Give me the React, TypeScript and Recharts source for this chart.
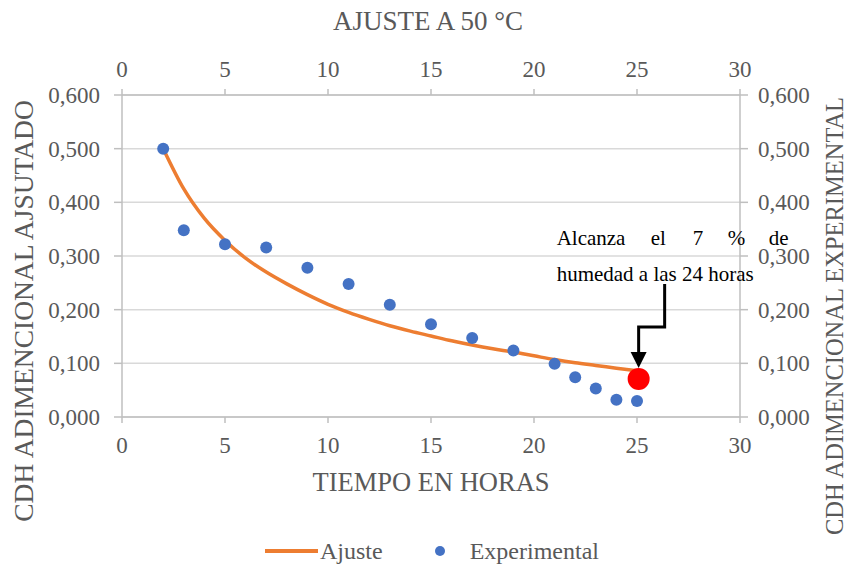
import React from "react";
import {
  CartesianGrid,
  ComposedChart,
  Label,
  Line,
  Scatter,
  XAxis,
  YAxis,
} from "recharts";

// curva ajustada
const ajusteHoras = [2, 3, 4, 5, 6, 7, 8, 9, 10, 11, 12, 13, 14, 15, 16, 17, 18, 19, 20, 21, 22, 23, 24, 25];
const ajusteCdh = [
  0.5, 0.425, 0.37, 0.329, 0.296, 0.27, 0.248, 0.228, 0.21, 0.195, 0.182, 0.17,
  0.16, 0.151, 0.142, 0.134, 0.127, 0.121, 0.114, 0.107, 0.101, 0.096, 0.091, 0.086,
];

// puntos experimentales
const expHoras = [2, 3, 5, 7, 9, 11, 13, 15, 17, 19, 21, 22, 23, 24, 25];
const expCdh = [0.5, 0.348, 0.322, 0.316, 0.278, 0.248, 0.209, 0.173, 0.147, 0.124, 0.099, 0.074, 0.053, 0.032, 0.03];

// punto del 7 % de humedad
const metaHoras = [25.08];
const metaCdh = [0.071];

const xTicks = [0, 5, 10, 15, 20, 25, 30];
const yTicks = [0, 0.1, 0.2, 0.3, 0.4, 0.5, 0.6];

const ajusteData = ajusteHoras.map((x, i) => ({ x, y: ajusteCdh[i] }));
const expData = expHoras.map((x, i) => ({ x, y: expCdh[i] }));
const metaData = metaHoras.map((x, i) => ({ x, y: metaCdh[i] }));

const ORANGE = "#ED7D31";
const BLUE = "#4472C4";
const GREY_TEXT = "#595959";
const AXIS = "#bfbfbf";
const FONT = "Liberation Serif";

const W = 847;
const H = 566;
const PLOT_L = 122;
const PLOT_R = 740;
const PLOT_T = 95;
const PLOT_B = 417;

const fmtY = (v: number) => v.toFixed(3).replace(".", ",");

const tickStyle = { fill: GREY_TEXT, fontSize: 23, fontFamily: FONT };

function ExpDot(props: any) {
  const { cx, cy } = props;
  if (cx == null || cy == null) return null;
  return <circle cx={cx} cy={cy} r={6} fill={BLUE} />;
}

function MetaDot(props: any) {
  const { cx, cy } = props;
  if (cx == null || cy == null) return null;
  const lx = cx + 26;
  return (
    <g>
      <circle cx={cx} cy={cy} r={11} fill="#FF0000" />
      <polyline
        points={`${lx},${cy - 95} ${lx},${cy - 52} ${cx},${cy - 52} ${cx},${cy - 26}`}
        fill="none"
        stroke="#000"
        strokeWidth={3}
      />
      <polygon
        points={`${cx - 8},${cy - 27} ${cx + 8},${cy - 27} ${cx},${cy - 11}`}
        fill="#000"
      />
      <text fontFamily={FONT} fontSize={21} fill="#000" y={cy - 134}>
        <tspan x={cx - 82}>Alcanza</tspan>
        <tspan x={cx + 12}>el</tspan>
        <tspan x={cx + 54}>7</tspan>
        <tspan x={cx + 89}>%</tspan>
        <tspan x={cx + 130}>de</tspan>
      </text>
      <text x={cx - 82} y={cy - 98} fontFamily={FONT} fontSize={21} fill="#000">
        humedad a las 24 horas
      </text>
    </g>
  );
}

export default function App() {
  const midX = (PLOT_L + PLOT_R) / 2;
  return (
    <div
      style={{
        position: "absolute",
        left: 0,
        top: 0,
        width: W,
        height: H,
        background: "#fff",
        fontFamily: FONT,
      }}
    >
      <ComposedChart width={W} height={H} margin={{ top: 0, right: 0, bottom: 0, left: 0 }}>
        <CartesianGrid
          xAxisId="bottom"
          yAxisId="left"
          vertical={false}
          stroke="#d9d9d9"
          strokeWidth={1.5}
        />
        <XAxis
          xAxisId="bottom"
          dataKey="x"
          type="number"
          orientation="bottom"
          domain={[0, 30]}
          ticks={xTicks}
          height={H - PLOT_B}
          stroke={AXIS}
          strokeWidth={1.5}
          tick={tickStyle}
          tickSize={6}
          tickMargin={14}
        >
          <Label
            content={() => (
              <text x={midX} y={491} textAnchor="middle" fill={GREY_TEXT} fontSize={26.5} fontFamily={FONT}>
                TIEMPO EN HORAS
              </text>
            )}
          />
        </XAxis>
        <XAxis
          xAxisId="top"
          dataKey="x"
          type="number"
          orientation="top"
          domain={[0, 30]}
          ticks={xTicks}
          height={PLOT_T}
          stroke={AXIS}
          strokeWidth={1.5}
          tick={tickStyle}
          tickSize={6}
          tickMargin={12}
          allowDataOverflow
        >
          <Label
            content={() => (
              <text x={midX - 3} y={30} textAnchor="middle" fill={GREY_TEXT} fontSize={27} fontFamily={FONT}>
                AJUSTE A 50 °C
              </text>
            )}
          />
        </XAxis>
        <YAxis
          yAxisId="left"
          orientation="left"
          domain={[0, 0.6]}
          ticks={yTicks}
          tickFormatter={fmtY}
          width={PLOT_L}
          stroke={AXIS}
          strokeWidth={1.5}
          tick={tickStyle}
          tickSize={8}
          tickMargin={14}
        >
          <Label
            content={() => (
              <text
                x={33}
                y={311}
                transform="rotate(-90 33 311)"
                textAnchor="middle"
                fill={GREY_TEXT}
                fontSize={27.5}
                fontFamily={FONT}
              >
                CDH ADIMENCIONAL AJSUTADO
              </text>
            )}
          />
        </YAxis>
        <YAxis
          yAxisId="right"
          orientation="right"
          domain={[0, 0.6]}
          ticks={yTicks}
          tickFormatter={fmtY}
          width={W - PLOT_R}
          stroke={AXIS}
          strokeWidth={1.5}
          tick={tickStyle}
          tickSize={8}
          tickMargin={10}
        >
          <Label
            content={() => (
              <text
                x={843}
                y={316}
                transform="rotate(-90 843 316)"
                textAnchor="middle"
                fill={GREY_TEXT}
                fontSize={24.5}
                fontFamily={FONT}
              >
                CDH ADIMENCIONAL EXPERIMENTAL
              </text>
            )}
          />
        </YAxis>
        <Line
          xAxisId="bottom"
          yAxisId="left"
          data={ajusteData}
          dataKey="y"
          type="monotone"
          stroke={ORANGE}
          strokeWidth={3.5}
          dot={false}
          activeDot={false}
          isAnimationActive={false}
          name="Ajuste"
        />
        <Scatter
          xAxisId="bottom"
          yAxisId="right"
          data={expData}
          dataKey="y"
          shape={ExpDot}
          isAnimationActive={false}
          name="Experimental"
        />
        <Scatter
          xAxisId="bottom"
          yAxisId="right"
          data={metaData}
          dataKey="y"
          shape={MetaDot}
          isAnimationActive={false}
          legendType="none"
        />
      </ComposedChart>
      <div
        style={{
          position: "absolute",
          left: 265,
          top: 536,
          height: 30,
          display: "flex",
          alignItems: "center",
          color: GREY_TEXT,
          fontSize: 24,
          fontFamily: FONT,
          whiteSpace: "nowrap",
        }}
      >
        <span style={{ display: "inline-block", width: 53, height: 3.5, background: ORANGE }} />
        <span style={{ marginLeft: 2 }}>Ajuste</span>
        <span
          style={{
            display: "inline-block",
            width: 10,
            height: 10,
            borderRadius: 5,
            background: BLUE,
            marginLeft: 52,
          }}
        />
        <span style={{ marginLeft: 25 }}>Experimental</span>
      </div>
    </div>
  );
}
